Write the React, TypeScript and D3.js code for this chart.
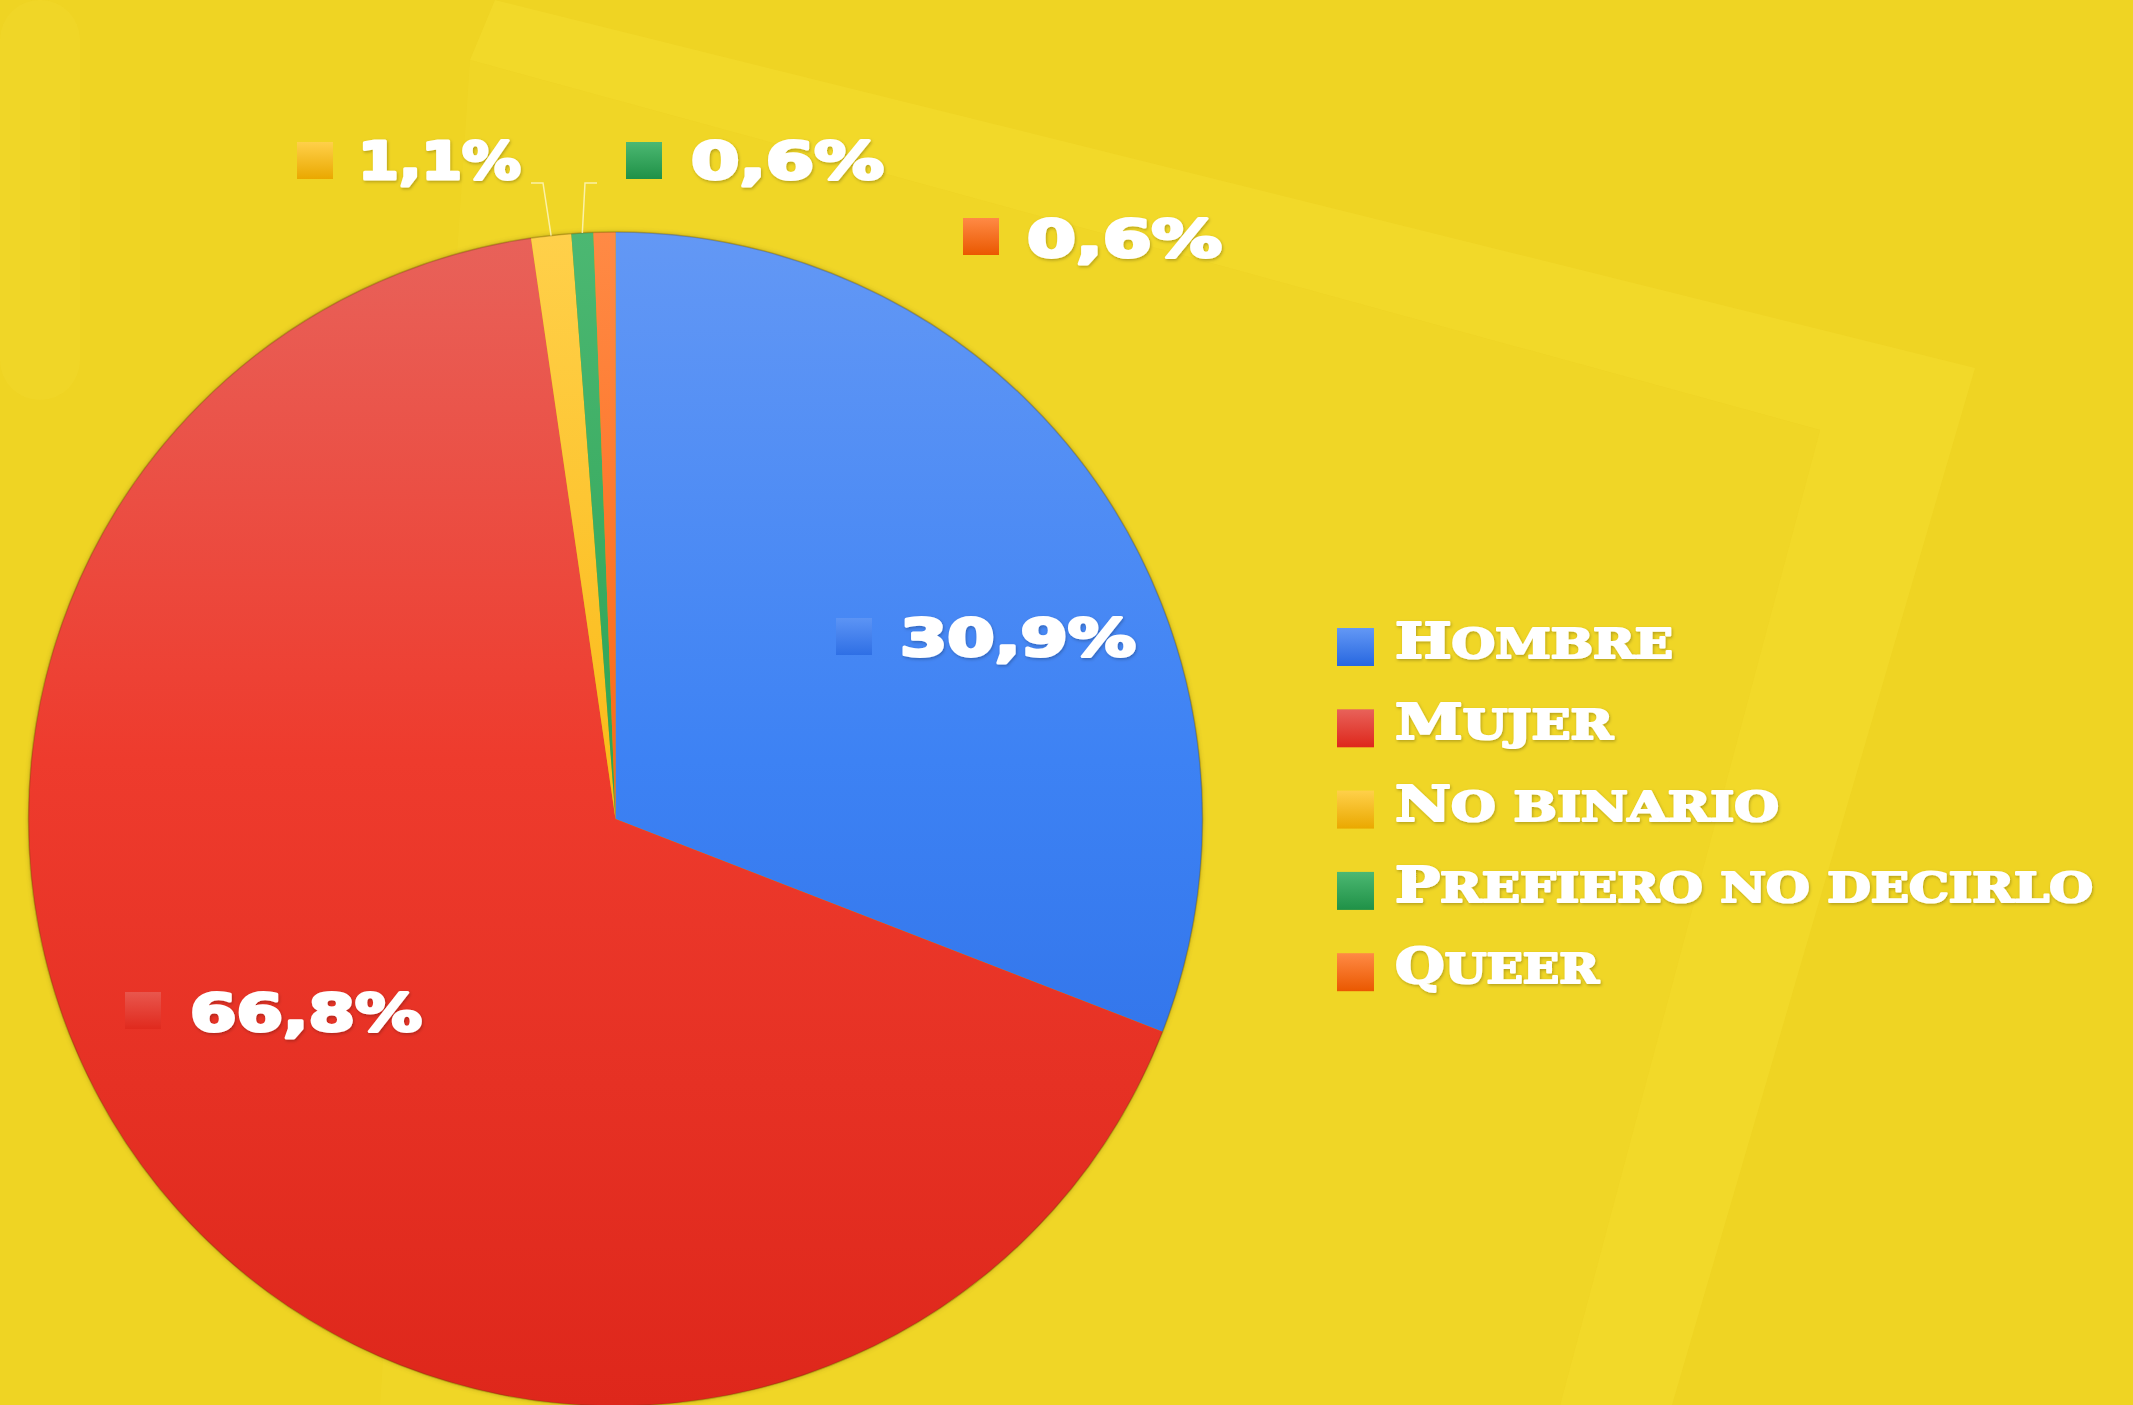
import React, { useEffect, useRef } from "react";
import * as d3 from "d3";

// ---- data ----
const categories = ["Hombre", "Mujer", "No binario", "Prefiero no decirlo", "Queer"];
const values = [30.9, 66.8, 1.1, 0.6, 0.6];
const valueLabels = ["30,9%", "66,8%", "1,1%", "0,6%", "0,6%"];

// ---- styles ----
const baseColors = ["#3d82f4", "#ee3b2d", "#fbbc1c", "#2fa457", "#fb6a1a"];
const lightColors = ["#6398f5", "#e8625a", "#ffd04a", "#4cb872", "#ff8a45"];
const darkColors = ["#2767e0", "#de271b", "#eaa800", "#1f9147", "#ea5800"];

// ---- layout ----
const W = 2133;
const H = 1405;
const CX = 615.5;
const CY = 819;
const R = 587;

const labelLayout = [
  { sx: 836, sy: 618, tx: 900, ty: 656, tw: 236 },
  { sx: 125, sy: 992, tx: 190, ty: 1031, tw: 232 },
  { sx: 297, sy: 142, tx: 358, ty: 179, tw: 163 },
  { sx: 626, sy: 142, tx: 691, ty: 179, tw: 193 },
  { sx: 963, sy: 218, tx: 1027, ty: 257, tw: 195 },
];
const leaderLayout: ({ ey: number; ex: number; elx: number } | null)[] = [
  null,
  null,
  { elx: 543, ey: 183, ex: 531 },
  { elx: 585, ey: 183, ex: 597 },
  null,
];
const legendLayout = { sx: 1337, tx: 1395, y0: 658, step: 81.3, sw: 37, sh: 38 };
const legendWidths = [278, 218, 384, 698, 204];

export default function App() {
  const ref = useRef<SVGSVGElement | null>(null);

  useEffect(() => {
    document.body.style.margin = "0";
    const svg = d3.select(ref.current);
    svg.selectAll("*").remove();

    const defs = svg.append("defs");

    baseColors.forEach((c, i) => {
      const g = defs
        .append("linearGradient")
        .attr("id", `slice${i}`)
        .attr("gradientUnits", "userSpaceOnUse")
        .attr("x1", 0)
        .attr("x2", 0)
        .attr("y1", -R)
        .attr("y2", R);
      g.append("stop").attr("offset", "0%").attr("stop-color", lightColors[i]);
      g.append("stop").attr("offset", "45%").attr("stop-color", c);
      g.append("stop").attr("offset", "100%").attr("stop-color", darkColors[i]);

      const s = defs
        .append("linearGradient")
        .attr("id", `sq${i}`)
        .attr("x1", 0)
        .attr("x2", 0)
        .attr("y1", 0)
        .attr("y2", 1);
      s.append("stop").attr("offset", "0%").attr("stop-color", lightColors[i]);
      s.append("stop").attr("offset", "100%").attr("stop-color", darkColors[i]);
    });

    const f = defs
      .append("filter")
      .attr("id", "tshadow")
      .attr("x", "-10%")
      .attr("y", "-30%")
      .attr("width", "120%")
      .attr("height", "160%");
    f.append("feDropShadow")
      .attr("dx", 1)
      .attr("dy", 1.5)
      .attr("stdDeviation", 1.5)
      .attr("flood-color", "#000")
      .attr("flood-opacity", 0.25);

    const pf = defs
      .append("filter")
      .attr("id", "pshadow")
      .attr("x", "-10%")
      .attr("y", "-10%")
      .attr("width", "120%")
      .attr("height", "120%");
    pf.append("feDropShadow")
      .attr("dx", 0)
      .attr("dy", 0)
      .attr("stdDeviation", 2.5)
      .attr("flood-color", "#6b5800")
      .attr("flood-opacity", 0.45);

    // background
    svg.append("rect").attr("width", W).attr("height", H).attr("fill", "#efd423");
    svg
      .append("polygon")
      .attr("points", "495,0 1975,368 1672,1405 1560,1405 1820,430 470,60")
      .attr("fill", "#f4dc30")
      .attr("opacity", 0.55);
    svg
      .append("polygon")
      .attr("points", "470,60 1820,430 1560,1405 380,1405")
      .attr("fill", "#f2d82a")
      .attr("opacity", 0.5);
    svg
      .append("rect")
      .attr("x", 0)
      .attr("y", 0)
      .attr("width", 80)
      .attr("height", 400)
      .attr("rx", 40)
      .attr("fill", "#f4da30")
      .attr("opacity", 0.35);

    // pie
    const pie = d3
      .pie<number>()
      .sort(null)
      .value((d) => d)
      .startAngle(0)
      .endAngle(2 * Math.PI);
    const arcs = pie(values);
    const arc = d3.arc<d3.PieArcDatum<number>>().innerRadius(0).outerRadius(R);
    const edgeArc = d3.arc<d3.PieArcDatum<number>>().innerRadius(R).outerRadius(R);

    const g = svg.append("g").attr("transform", `translate(${CX},${CY})`);
    g.append("circle").attr("r", R).attr("fill", "#c9a800").attr("filter", "url(#pshadow)");
    g.selectAll("path.slice")
      .data(arcs)
      .enter()
      .append("path")
      .attr("class", "slice")
      .attr("d", (d) => arc(d) as string)
      .attr("fill", (_d, i) => `url(#slice${i})`);
    g.append("circle")
      .attr("r", R)
      .attr("fill", "none")
      .attr("stroke", "rgba(90,70,0,0.28)")
      .attr("stroke-width", 1.5);

    // leader lines
    arcs.forEach((d, i) => {
      const L = leaderLayout[i];
      if (!L) return;
      const [px, py] = edgeArc.centroid(d);
      const p = d3.path();
      p.moveTo(CX + px, CY + py);
      p.lineTo(L.elx, L.ey);
      p.lineTo(L.ex, L.ey);
      svg
        .append("path")
        .attr("d", p.toString())
        .attr("fill", "none")
        .attr("stroke", "rgba(255,250,210,0.75)")
        .attr("stroke-width", 1.5);
    });

    // value labels
    valueLabels.forEach((t, i) => {
      const L = labelLayout[i];
      svg
        .append("rect")
        .attr("x", L.sx)
        .attr("y", L.sy)
        .attr("width", 36)
        .attr("height", 37)
        .attr("fill", `url(#sq${i})`)
        .attr("opacity", i < 2 ? 0.75 : 1);
      svg
        .append("text")
        .attr("x", L.tx)
        .attr("y", L.ty)
        .attr("textLength", L.tw)
        .attr("lengthAdjust", "spacingAndGlyphs")
        .attr("fill", "#ffffff")
        .attr("stroke", "#ffffff")
        .attr("stroke-width", 3)
        .attr("stroke-linejoin", "round")
        .attr("font-family", "'DejaVu Sans', sans-serif")
        .attr("font-weight", 900)
        .attr("font-size", 51)
        .attr("filter", "url(#tshadow)")
        .text(t);
    });

    // legend
    categories.forEach((c, i) => {
      const y = legendLayout.y0 + i * legendLayout.step;
      svg
        .append("rect")
        .attr("x", legendLayout.sx)
        .attr("y", y - 30)
        .attr("width", legendLayout.sw)
        .attr("height", legendLayout.sh)
        .attr("fill", `url(#sq${i})`);
      const t = svg
        .append("text")
        .attr("x", legendLayout.tx)
        .attr("y", y)
        .attr("textLength", legendWidths[i])
        .attr("lengthAdjust", "spacingAndGlyphs")
        .attr("fill", "#ffffff")
        .attr("stroke", "#ffffff")
        .attr("stroke-width", 2.2)
        .attr("stroke-linejoin", "round")
        .attr("font-family", "'DejaVu Serif', serif")
        .attr("font-weight", 900)
        .attr("filter", "url(#tshadow)");
      t.append("tspan").attr("font-size", 49).text(c.charAt(0).toUpperCase());
      t.append("tspan").attr("font-size", 41).text(c.slice(1).toUpperCase());
    });
  }, []);

  return (
    <svg
      ref={ref}
      width={W}
      height={H}
      style={{ position: "absolute", left: 0, top: 0, display: "block" }}
    />
  );
}
